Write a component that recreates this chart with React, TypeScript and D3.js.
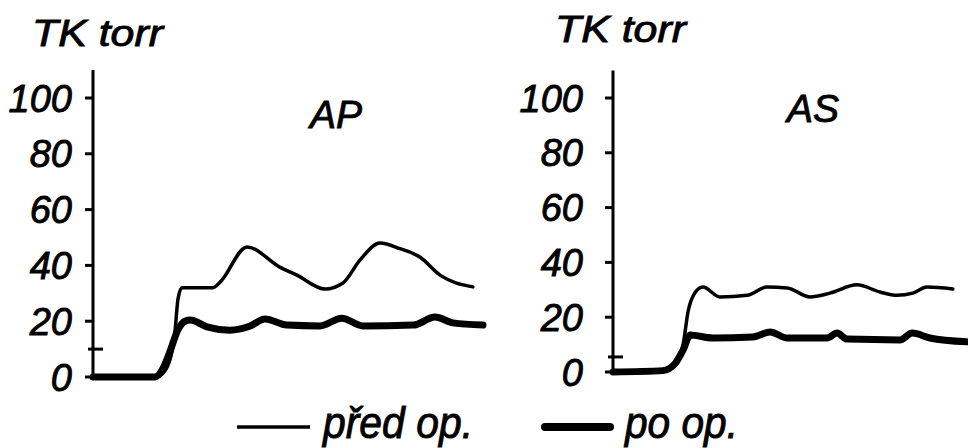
import React from 'react';
import * as d3 from 'd3';

type Pt = [number, number];

// time in arbitrary units (0..100 across each panel), value in torr
const apPred: Pt[] = [
  [0, 0], [15.9, 0], [17.2, 0.5], [19.7, 6], [21, 16], [21.8, 28], [22.8, 32],
  [30.8, 32], [32.6, 34], [39.5, 46.6], [47.9, 39.4], [52.3, 36.5], [59.5, 31.5],
  [64.1, 33.7], [68.5, 42], [73.6, 48], [78.7, 46], [83.8, 43], [89, 36.5], [97.4, 32.3],
];
const apPo: Pt[] = [
  [0, 0], [15.9, 0], [17.9, 3], [19.7, 9], [21.8, 17], [23.6, 20], [24.9, 20.4],
  [29.2, 18], [35.1, 16.8], [40.3, 18.3], [44.1, 20.8], [49.7, 18.6], [58.2, 18.3],
  [63.8, 21.1], [69.2, 18.3], [82.1, 18.6], [87.7, 21.5], [92.3, 19.4], [100, 18.6],
];
const asPred: Pt[] = [
  [0, 0], [14.1, 0.5], [17.5, 3], [19.8, 10], [21.2, 22], [23.2, 29], [25.4, 31],
  [30.2, 27.4], [37.9, 28], [43.5, 31], [49.2, 30.7], [55.6, 27.4], [61.3, 28.8],
  [68.9, 31.8], [75.4, 29.2], [80.2, 28], [84.7, 28.8], [88.7, 31], [96, 30.3],
];
const asPo: Pt[] = [
  [0, 0], [14.1, 0.5], [17.5, 3], [19.8, 8], [21.8, 13.5], [28.2, 12.4], [39.5, 12.8],
  [44.4, 14.6], [49.2, 12.4], [60.5, 12.4], [63.3, 14.2], [66.1, 12], [81.1, 11.7],
  [84.5, 14.2], [89.5, 12.4], [100, 11],
];

const yTicks = [0, 20, 40, 60, 80, 100];
const yLabel = 'TK torr';
const legend = ['před op.', 'po op.'];

const W = 968;
const H = 448;
const font = '"Liberation Sans", Arial, sans-serif';

// slightly heavier italic text, closer to the hand lettering
const txt = {
  fontStyle: 'italic',
  fontFamily: font,
  fill: '#000',
  stroke: '#000',
  strokeWidth: 0.9,
} as const;

interface PanelProps {
  title: string;
  pred: Pt[];
  po: Pt[];
  x0: number;
  x1: number;
  yZero: number;
  yHundred: number;
  minorTick: number;
  labelGap: number;
  titleX: number;
  titleY: number;
  headX: number;
  headY: number;
}

const Panel = (p: PanelProps) => {
  const x = d3.scaleLinear().domain([0, 100]).range([p.x0, p.x1]);
  const y = d3.scaleLinear().domain([0, 100]).range([p.yZero, p.yHundred]);
  const line = d3.line<Pt>()
    .x(d => x(d[0]))
    .y(d => y(d[1]))
    .curve(d3.curveMonotoneX);

  return (
    <g>
      <text x={p.headX} y={p.headY} fontSize={37} {...txt}
        textLength={131} lengthAdjust="spacingAndGlyphs">{yLabel}</text>
      {/* axis */}
      <line x1={p.x0} x2={p.x0} y1={y(110)} y2={y(0)} stroke="#000" strokeWidth={3} />
      {yTicks.map(t => (
        <g key={t}>
          <line x1={p.x0 - 8} x2={p.x0} y1={y(t)} y2={y(t)} stroke="#000" strokeWidth={3} />
          <text x={p.x0 - p.labelGap} y={y(t)} dy="0.36em" textAnchor="end"
            fontSize={38} {...txt}>{t}</text>
        </g>
      ))}
      <line x1={p.x0 - 5} x2={p.x0 + 10} y1={y(p.minorTick)} y2={y(p.minorTick)}
        stroke="#000" strokeWidth={3} />
      <text x={p.titleX} y={p.titleY} fontSize={39} {...txt}>{p.title}</text>
      <path d={line(p.pred) ?? ''} fill="none" stroke="#000" strokeWidth={3.5}
        strokeLinejoin="round" strokeLinecap="round" />
      <path d={line(p.po) ?? ''} fill="none" stroke="#000" strokeWidth={7}
        strokeLinejoin="round" strokeLinecap="round" />
    </g>
  );
};

export default function App() {
  return (
    <svg width={W} height={H} style={{ position: 'absolute', left: 0, top: 0, background: '#fff' }}>
      <rect width={W} height={H} fill="#fff" />
      <Panel title="AP" pred={apPred} po={apPo} x0={93} x1={483} yZero={377} yHundred={98}
        minorTick={10} labelGap={21} titleX={310} titleY={128} headX={32} headY={46} />
      <Panel title="AS" pred={asPred} po={asPo} x0={613} x1={967} yZero={372} yHundred={98}
        minorTick={5.5} labelGap={30} titleX={787} titleY={122} headX={555} headY={42} />
      {/* legend */}
      <line x1={237} x2={310} y1={427} y2={427} stroke="#000" strokeWidth={3.5} />
      <text x={323} y={438} fontSize={44} {...txt}
        textLength={150} lengthAdjust="spacingAndGlyphs">{legend[0]}</text>
      <line x1={545} x2={610} y1={427} y2={427} stroke="#000" strokeWidth={8} strokeLinecap="round" />
      <text x={625} y={438} fontSize={44} {...txt}
        textLength={113} lengthAdjust="spacingAndGlyphs">{legend[1]}</text>
    </svg>
  );
}
